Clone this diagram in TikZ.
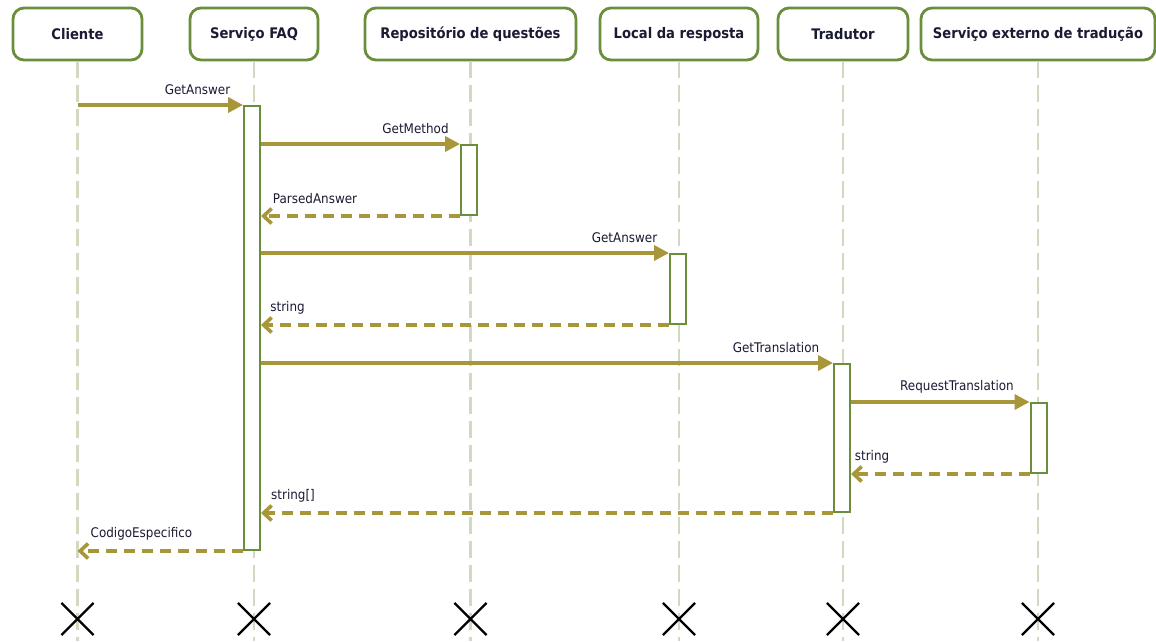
\documentclass[tikz,border=0pt]{standalone}
\usepackage{fontspec}
\setmainfont{DejaVu Sans Condensed}
\usetikzlibrary{arrows.meta,calc,shapes.misc}

\definecolor{boxgreen}{HTML}{6B8E3D}
\definecolor{msgolive}{HTML}{A8963A}
\definecolor{lifegrey}{HTML}{D3D8C0}
\definecolor{textnavy}{HTML}{1A1A33}

\tikzset{
  head/.style={draw=boxgreen, line width=2.8pt, rounded corners=11pt, fill=white,
    minimum height=52pt, inner sep=0pt, text=textnavy,
    font=\fontsize{14.6}{16}\selectfont\bfseries},
  life/.style={draw=lifegrey, line width=2.4pt, dash pattern=on 17pt off 7pt},
  act/.style={draw=boxgreen, line width=2pt, fill=white, minimum width=16pt,
    inner sep=0pt, anchor=north},
  call/.style={draw=msgolive, line width=3.6pt, -{Triangle[length=15pt,width=15pt]}},
  reply/.style={draw=msgolive, line width=3.6pt, dash pattern=on 11pt off 7pt,
    -{Straight Barb[length=8pt,width=15pt]}},
  msg/.style={anchor=base, inner sep=0pt, text=textnavy,
    font=\fontsize{13.3}{15}\selectfont},
  destroy/.style={cross out, draw=black, line width=2.2pt, minimum size=30pt,
    inner sep=0pt},
}

\begin{document}
\begin{tikzpicture}[x=1pt, y=-1pt]
  \useasboundingbox (0,0) rectangle (1156,641);
  \fill[white] (0,0) rectangle (1156,641);

  % participants
  \node[head, minimum width=129pt] (cli) at (77.5,34) {Cliente};
  \node[head, minimum width=128pt] (faq) at (254,34) {Serviço FAQ};
  \node[head, minimum width=211pt] (rep) at (470.5,34) {Repositório de questões};
  \node[head, minimum width=158pt] (loc) at (679,34) {Local da resposta};
  \node[head, minimum width=130pt] (tra) at (843,34) {Tradutor};
  \node[head, minimum width=234pt] (ext) at (1038,34) {Serviço externo de tradução};

  % lifelines
  \coordinate (bottom) at (0,641);
  \foreach \p in {cli,faq,rep,loc,tra,ext}
    \draw[life] (\p.south) -- (\p.south |- bottom);

  % end-of-life marks
  \node[destroy] (xcli) at (cli |- 0,619) {};
  \node[destroy] (xfaq) at (faq |- 0,619) {};
  \node[destroy] (xrep) at (rep |- 0,619) {};
  \node[destroy] (xloc) at (loc |- 0,619) {};
  \node[destroy] (xtra) at (tra |- 0,619) {};
  \node[destroy] (xext) at (ext |- 0,619) {};

  % activation bars
  \node[act, minimum height=444pt] (aFAQ) at (252,105) {};
  \node[act, minimum height=70pt]  (aRep) at (469,144) {};
  \node[act, minimum height=70pt]  (aLoc) at (678,253) {};
  \node[act, minimum height=148pt] (aTra) at (842,363) {};
  \node[act, minimum height=70pt]  (aExt) at (1038.5,402) {};

  % messages
  \draw[call]  (cli |- aFAQ.north west) -- (aFAQ.north west);
  \draw[call]  (aFAQ.east |- aRep.north) -- (aRep.north west);
  \draw[reply] (aRep.south west) -- (aFAQ.east |- aRep.south);
  \draw[call]  (aFAQ.east |- aLoc.north) -- (aLoc.north west);
  \draw[reply] (aLoc.south west) -- (aFAQ.east |- aLoc.south);
  \draw[call]  (aFAQ.east |- aTra.north) -- (aTra.north west);
  \draw[call]  (aTra.east |- aExt.north) -- (aExt.north west);
  \draw[reply] (aExt.south west) -- (aTra.east |- aExt.south);
  \draw[reply] (aTra.south west) -- (aFAQ.east |- aTra.south);
  \draw[reply] (aFAQ.south west) -- (cli |- aFAQ.south);

  % message labels
  \node[msg] (l1)  at (197.5,94)  {GetAnswer};
  \node[msg] (l2)  at (415.5,133) {GetMethod};
  \node[msg] (l3)  at (315,203)   {ParsedAnswer};
  \node[msg] (l4)  at (624.5,242) {GetAnswer};
  \node[msg] (l5)  at (287.5,311) {string};
  \node[msg] (l6)  at (776,352)   {GetTranslation};
  \node[msg] (l7)  at (957,390)   {RequestTranslation};
  \node[msg] (l8)  at (872,460)   {string};
  \node[msg] (l9)  at (293,499)   {string[]};
  \node[msg] (l10) at (141.5,537) {CodigoEspecifico};
\end{tikzpicture}
\end{document}
